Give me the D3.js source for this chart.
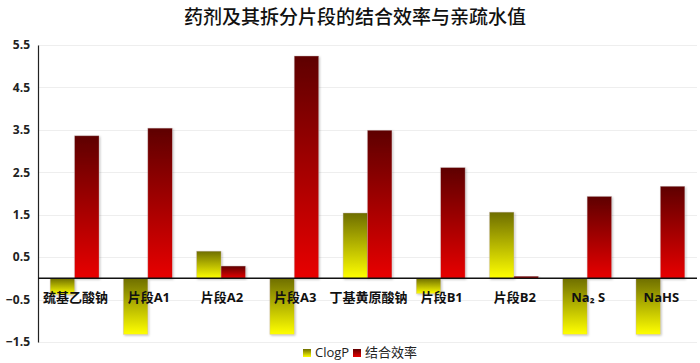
<!DOCTYPE html>
<html>
<head>
<meta charset="utf-8">
<script src="https://cdn.jsdelivr.net/npm/d3@7"></script>
<style>
  body { margin: 0; background: #fff; }
  svg { display: block; }
</style>
</head>
<body>
<svg id="chart" width="700" height="363"></svg>
<script>
const categories = ["巯基乙酸钠", "片段A1", "片段A2", "片段A3", "丁基黄原酸钠", "片段B1", "片段B2", "Na₂ S", "NaHS"];
const clogP = [-0.38, -1.32, 0.64, -1.32, 1.54, -0.36, 1.56, -1.32, -1.32];
const efficiency = [3.36, 3.54, 0.29, 5.24, 3.49, 2.61, 0.05, 1.93, 2.17];
const tickValues = [5.5, 4.5, 3.5, 2.5, 1.5, 0.5, -0.5, -1.5];
const seriesNames = ["ClogP", "结合效率"];

const svg = d3.select("svg#chart");
const margin = {left: 38, right: 3, top: 45, bottom: 21};
const width = 700, height = 363;

const x = d3.scaleBand()
  .domain(categories)
  .range([margin.left, width - margin.right])
  .paddingInner(1 / 3)
  .paddingOuter(1 / 6);

const sub = d3.scaleBand()
  .domain(seriesNames)
  .range([0, x.bandwidth()]);

const y = d3.scaleLinear()
  .domain([-1.5, 5.5])
  .range([height - margin.bottom, margin.top]);

const defs = svg.append("defs");
function grad(id, top, bottom) {
  const g = defs.append("linearGradient")
    .attr("id", id)
    .attr("x1", 0).attr("y1", 0).attr("x2", 0).attr("y2", 1);
  g.append("stop").attr("offset", "0%").attr("stop-color", top);
  g.append("stop").attr("offset", "100%").attr("stop-color", bottom);
}
grad("g-yellow", "#6e6e00", "#ffff00");
grad("g-red", "#5e0000", "#e80000");

const shadow = defs.append("filter").attr("id", "shadow")
  .attr("x", "-10%").attr("y", "-10%").attr("width", "130%").attr("height", "130%");
shadow.append("feDropShadow")
  .attr("dx", 1).attr("dy", 1).attr("stdDeviation", 0.8)
  .attr("flood-color", "#000").attr("flood-opacity", 0.25);

// title
svg.append("text")
  .attr("x", 355)
  .attr("y", 24)
  .attr("text-anchor", "middle")
  .attr("font-family", "Noto Sans CJK SC")
  .attr("font-size", 19)
  .attr("font-weight", 500)
  .attr("fill", "#111")
  .text("药剂及其拆分片段的结合效率与亲疏水值");

// gridlines
svg.append("g")
  .selectAll("line")
  .data(tickValues)
  .join("line")
    .attr("x1", margin.left)
    .attr("x2", width - margin.right)
    .attr("y1", d => Math.round(y(d)) + 0.5)
    .attr("y2", d => Math.round(y(d)) + 0.5)
    .attr("stroke", "#eeeeee")
    .attr("stroke-width", 1);

// y axis
const yAxis = svg.append("g")
  .attr("transform", `translate(${margin.left},0)`)
  .call(d3.axisLeft(y).tickValues(tickValues).tickSize(0).tickPadding(8).tickFormat(d3.format(".1f")));
yAxis.select(".domain").attr("stroke", "#222").attr("stroke-width", 1.2);
yAxis.selectAll("text")
  .attr("font-family", "Open Sans")
  .attr("font-weight", "bold")
  .attr("font-size", 12)
  .attr("fill", "#222");

// bars
const data = categories.map((c, i) => ({cat: c, vals: [clogP[i], efficiency[i]]}));
const groups = svg.append("g")
  .selectAll("g")
  .data(data)
  .join("g")
    .attr("transform", d => `translate(${x(d.cat)},0)`);

groups.selectAll("rect")
  .data(d => d.vals.map((v, j) => ({key: seriesNames[j], v: v})))
  .join("rect")
    .attr("x", d => sub(d.key))
    .attr("width", sub.bandwidth())
    .attr("y", d => y(Math.max(0, d.v)))
    .attr("height", d => Math.abs(y(d.v) - y(0)))
    .attr("fill", d => d.key === "ClogP" ? "url(#g-yellow)" : "url(#g-red)")
    .attr("stroke", "rgba(200,180,180,0.6)")
    .attr("stroke-width", 0.6)
    .attr("filter", "url(#shadow)");

// zero line
svg.append("line")
  .attr("x1", margin.left)
  .attr("x2", width - margin.right)
  .attr("y1", y(0))
  .attr("y2", y(0))
  .attr("stroke", "#111")
  .attr("stroke-width", 1.5);

// category labels
svg.append("g")
  .selectAll("text")
  .data(categories)
  .join("text")
    .attr("x", d => x(d) + x.bandwidth() / 2 + 1)
    .attr("y", y(0) + 24)
    .attr("text-anchor", "middle")
    .attr("font-family", "Open Sans, Noto Sans CJK SC")
    .attr("font-weight", "bold")
    .attr("font-size", 13)
    .attr("fill", "#111")
    .text(d => d);

// legend
const legend = svg.append("g").attr("transform", "translate(303,349)");
const lx = [0, 50];
legend.selectAll("rect")
  .data(seriesNames)
  .join("rect")
    .attr("x", (d, i) => lx[i])
    .attr("y", 0)
    .attr("width", 8)
    .attr("height", 8)
    .attr("fill", (d, i) => i === 0 ? "url(#g-yellow)" : "url(#g-red)");
legend.selectAll("text")
  .data(seriesNames)
  .join("text")
    .attr("x", (d, i) => lx[i] + 12)
    .attr("y", 8)
    .attr("font-family", "Open Sans, Noto Sans CJK SC")
    .attr("font-size", 13)
    .attr("fill", "#222")
    .text(d => d);
</script>
</body>
</html>
